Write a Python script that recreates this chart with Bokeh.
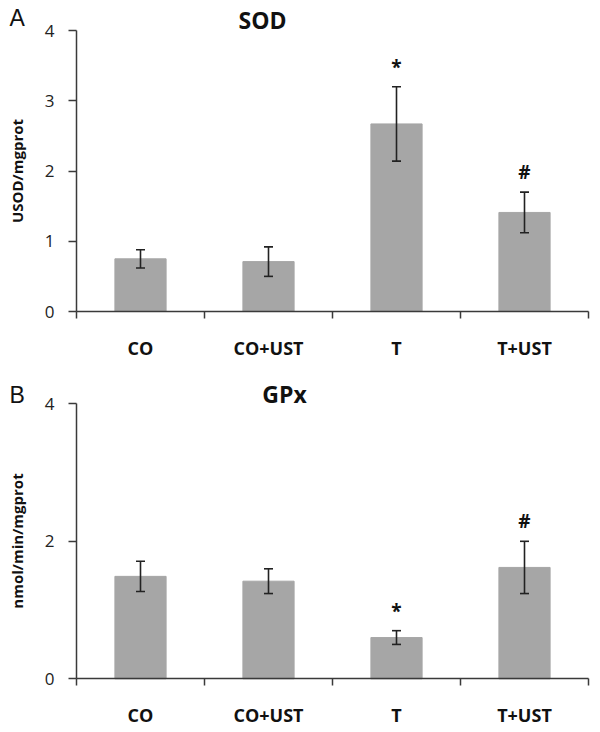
import numpy as np
from bokeh.plotting import figure
from bokeh.models import (Range1d, FixedTicker, ColumnDataSource, Whisker, TeeHead,
                          Label, LinearAxis)
from bokeh.layouts import column
from bokeh.embed import file_html
from bokeh.resources import INLINE
from bokeh.core.properties import value

groups = ["CO", "CO+UST", "T", "T+UST"]

sod_mean = [0.75, 0.71, 2.67, 1.41]
sod_err = [0.13, 0.21, 0.53, 0.29]
sod_marks = ["", "", "*", "#"]
sod_ticks = [0, 1, 2, 3, 4]

gpx_mean = [1.49, 1.42, 0.60, 1.62]
gpx_err = [0.22, 0.18, 0.10, 0.38]
gpx_marks = ["", "", "*", "#"]
gpx_ticks = [0, 2, 4]

BAR = "#a6a6a6"
AX = "#3a3a3a"
FONT = "Open Sans"
W = 600
X0_PX, XN_PX = 76, 588      # pixel span of the category axis


def panel(letter, title, ylabel, means, errs, marks, yticks,
          fig_h, y0_px, y4_px, title_x, title_dy_px, letter_dy_px):
    n = len(groups)
    ppx = (XN_PX - X0_PX) / n
    ppy = (y0_px - y4_px) / 4.0
    xr = Range1d(-X0_PX / ppx, n + (W - XN_PX) / ppx)
    yr = Range1d(-(fig_h - y0_px) / ppy, 4 + y4_px / ppy)

    xs = np.arange(n) + 0.5
    means = np.array(means)
    errs = np.array(errs)
    src = ColumnDataSource(dict(x=xs, top=means, upper=means + errs,
                                lower=means - errs, mark=marks))
    p = figure(frame_width=W, frame_height=fig_h, min_border=0,
               x_range=xr, y_range=yr,
               output_backend="svg", toolbar_location=None,
               x_axis_type=None, y_axis_type=None)
    p.outline_line_color = None
    p.xgrid.visible = False
    p.ygrid.visible = False
    p.background_fill_color = "white"
    p.border_fill_color = "white"

    p.vbar(x="x", top="top", width=0.4, bottom=0, source=src,
           fill_color=BAR, line_color=BAR)

    w = Whisker(source=src, base="x", upper="upper", lower="lower",
                line_color="#222222", line_width=1.6,
                upper_head=TeeHead(size=9, line_color="#222222", line_width=1.6),
                lower_head=TeeHead(size=9, line_color="#222222", line_width=1.6))
    w.level = "overlay"
    p.add_layout(w)

    p.text(x="x", y="upper", text="mark", source=src,
           text_align="center", text_baseline="alphabetic", y_offset=-20,
           text_font=value(FONT), text_font_style="bold",
           text_font_size="19px", text_color="#111111")

    # y axis
    ya = LinearAxis(ticker=FixedTicker(ticks=yticks, minor_ticks=[]),
                    fixed_location=0, bounds=(0, 4))
    ya.axis_line_color = AX
    ya.axis_line_width = 1.5
    ya.major_tick_line_color = AX
    ya.major_tick_line_width = 1.5
    ya.major_tick_out = 8
    ya.major_tick_in = 0
    ya.minor_tick_line_color = None
    ya.major_label_text_font = FONT
    ya.major_label_text_font_size = "17px"
    ya.major_label_text_color = "#222222"
    ya.major_label_standoff = 14
    ya.axis_label = ylabel
    ya.axis_label_text_font = FONT
    ya.axis_label_text_font_style = "bold"
    ya.axis_label_text_font_size = "15px"
    ya.axis_label_text_color = "#111111"
    ya.axis_label_standoff = 15
    p.add_layout(ya, "left")

    # x axis: labels at group centres, ticks at group boundaries
    xa = LinearAxis(ticker=FixedTicker(ticks=list(xs),
                                       minor_ticks=list(range(n + 1))),
                    fixed_location=0, bounds=(0, n))
    xa.major_label_overrides = {float(x): g for x, g in zip(xs, groups)}
    xa.axis_line_color = AX
    xa.axis_line_width = 1.5
    xa.major_tick_line_color = None
    xa.major_tick_out = 0
    xa.major_tick_in = 0
    xa.minor_tick_line_color = AX
    xa.minor_tick_line_width = 1.5
    xa.minor_tick_out = 7
    xa.minor_tick_in = 0
    xa.major_label_text_font = FONT
    xa.major_label_text_font_style = "bold"
    xa.major_label_text_font_size = "18px"
    xa.major_label_text_color = "#111111"
    xa.major_label_standoff = 17
    p.add_layout(xa, "below")

    p.add_layout(Label(x=title_x, y=4 + title_dy_px / ppy, text=title,
                       text_font=FONT, text_font_style="bold",
                       text_font_size="23px", text_align="center",
                       text_baseline="middle", text_color="#111111"))
    p.add_layout(Label(x=(9 - X0_PX) / ppx, y=4 + letter_dy_px / ppy, text=letter,
                       text_font="Liberation Sans", text_font_size="23px",
                       text_align="left", text_baseline="middle",
                       text_color="#111111"))
    return p


p1 = panel("A", "SOD", "USOD/mgprot", sod_mean, sod_err, sod_marks, sod_ticks,
           373, 311, 30, 1.453, 11, 12.5)
p2 = panel("B", "GPx", "nmol/min/mgprot", gpx_mean, gpx_err, gpx_marks, gpx_ticks,
           359, 678.3 - 373, 403.3 - 373, 1.625, 10, 9.3)

layout = column(p1, p2, spacing=0)
open("out.html", "w").write(file_html(layout, INLINE))
